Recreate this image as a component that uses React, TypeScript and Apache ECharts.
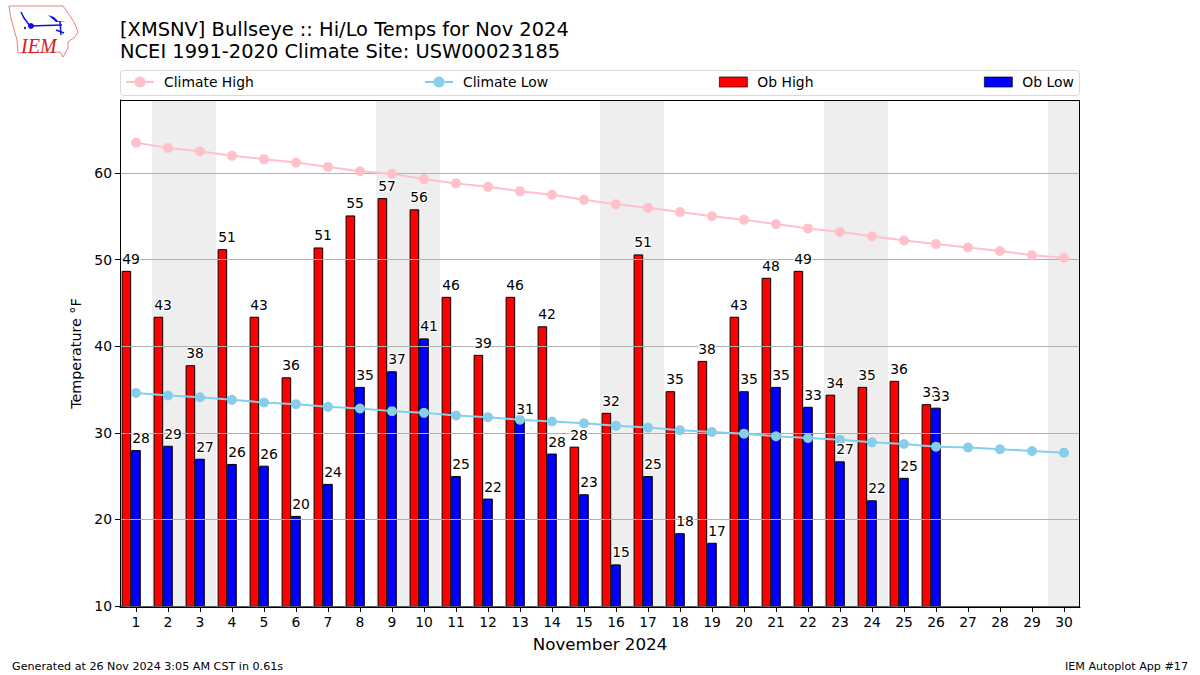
import React, { useEffect, useRef } from "react";
import * as echarts from "echarts";

const days = ["1","2","3","4","5","6","7","8","9","10","11","12","13","14","15","16","17","18","19","20","21","22","23","24","25","26","27","28","29","30"];
const climateHigh = [63.5,62.9,62.5,62.0,61.6,61.2,60.7,60.2,59.9,59.3,58.8,58.4,57.9,57.5,56.9,56.4,56.0,55.5,55.0,54.6,54.1,53.6,53.2,52.7,52.2,51.8,51.4,51.0,50.5,50.2];
const climateLow = [34.6,34.3,34.1,33.8,33.5,33.3,33.0,32.8,32.5,32.3,32.0,31.8,31.5,31.3,31.1,30.8,30.6,30.3,30.1,29.9,29.6,29.4,29.2,28.9,28.7,28.4,28.3,28.1,27.9,27.7];
const obHigh = [48.7,43.4,37.8,51.2,43.4,36.4,51.4,55.1,57.1,55.8,45.7,39.0,45.7,42.3,28.4,32.3,50.6,34.8,38.3,43.4,47.9,48.7,34.4,35.3,36.0,33.3];
const obLow = [28.0,28.5,27.0,26.4,26.2,20.4,24.1,35.3,37.1,40.9,25.0,22.4,31.4,27.6,22.9,14.8,25.0,18.4,17.3,34.8,35.3,33.0,26.7,22.2,24.8,32.9];
const weekendSpans = [[1.5,3.5],[8.5,10.5],[15.5,17.5],[22.5,24.5],[29.5,30.5]];
const yTicks = [10,20,30,40,50,60];

const FONT = "DejaVu Sans";

const legendAt = (name: string, left: number, h: number, icon?: string) => ({
  show: true,
  left,
  top: 75,
  data: icon ? [{ name, icon, itemStyle: { borderWidth: 0.7, borderColor: "#000" } }] : [name],
  selectedMode: false,
  itemWidth: 28,
  itemHeight: h,
  padding: 0,
  textStyle: { fontFamily: FONT, fontSize: 13.9, color: "#000", padding: [0, 0, 0, 5] },
});

const labelSeries = (name: string, values: number[], dx: number) => ({
  type: "scatter",
  name,
  z: 10,
  symbol: "circle",
  symbolSize: 2,
  silent: true,
  itemStyle: { opacity: 0 },
  data: values.map((v, i) => [i, v]),
  label: {
    show: true,
    position: "top",
    distance: 4,
    opacity: 1,
    fontFamily: FONT,
    fontSize: 13.9,
    color: "#000",
    textBorderColor: "#fff",
    textBorderWidth: 2.5,
    formatter: (p: any) => String(Math.round(p.value[1])),
  },
  labelLayout: { dx, hideOverlap: false },
});

export default function App() {
  const ref = useRef<HTMLDivElement>(null);
  useEffect(() => {
    document.body.style.margin = "0";
    const chart = echarts.init(ref.current!, undefined, { renderer: "svg" });
    const red = "#e88080";
    const blue = "#1212e0";
    chart.setOption({
      animation: false,
      backgroundColor: "#fff",
      title: {
        left: 120,
        top: 18,
        padding: 0,
        text: "[XMSNV] Bullseye :: Hi/Lo Temps for Nov 2024\nNCEI 1991-2020 Climate Site: USW00023185",
        textStyle: { fontFamily: FONT, fontSize: 19.45, fontWeight: "normal", color: "#000", lineHeight: 22 },
      },
      legend: [
        legendAt("Climate High", 125, 14),
        legendAt("Climate Low", 424, 14),
        legendAt("Ob High", 719, 10, "rect"),
        legendAt("Ob Low", 984, 10, "rect"),
      ],
      grid: { left: 120, top: 100, width: 960, height: 507, show: false },
      xAxis: [
        {
          type: "category",
          data: days,
          name: "November 2024",
          nameLocation: "middle",
          nameGap: 28,
          nameTextStyle: { fontFamily: FONT, fontSize: 16.7, color: "#000" },
          z: 3,
          axisLine: { show: true, lineStyle: { color: "#000", width: 1 } },
          axisTick: { show: true, alignWithLabel: true, length: 5, lineStyle: { color: "#000", width: 1 } },
          axisLabel: { interval: 0, margin: 8, fontFamily: FONT, fontSize: 13.9, color: "#000" },
          splitLine: { show: false },
        },
        { type: "value", min: 0.5, max: 30.5, show: false, splitLine: { show: false } },
      ],
      yAxis: {
        type: "value",
        min: 9.88,
        max: 68.43,
        name: "Temperature °F",
        nameLocation: "middle",
        nameRotate: 90,
        nameGap: 37,
        nameTextStyle: { fontFamily: FONT, fontSize: 14.3, color: "#000" },
        z: 3,
        axisLine: { show: true, lineStyle: { color: "#000", width: 1 } },
        axisTick: { show: true, length: 5, customValues: yTicks, lineStyle: { color: "#000", width: 1 } },
        axisLabel: { customValues: yTicks, margin: 8, fontFamily: FONT, fontSize: 13.9, color: "#000" },
        splitLine: { show: true, lineStyle: { color: "#b0b0b0", width: 1 } },
      },
      series: [
        {
          type: "line",
          name: "weekends",
          xAxisIndex: 1,
          data: [],
          z: 1,
          silent: true,
          markArea: {
            silent: true,
            itemStyle: { color: "#eeeeee" },
            data: weekendSpans.map(([a, b]) => [{ xAxis: a }, { xAxis: b }]),
          },
        },
        {
          type: "bar", name: "Ob High", data: obHigh, z: 2, barWidth: 9.6, barGap: 0,
          itemStyle: { color: "#ff0000", borderColor: "#000", borderWidth: 1 },
        },
        {
          type: "bar", name: "Ob Low", data: obLow, z: 2, barWidth: 9.6, barGap: 0,
          itemStyle: { color: "#0000ff", borderColor: "#000", borderWidth: 1 },
        },
        { type: "bar", name: "slot", data: [], z: 2, barWidth: 9.6, barGap: 0 },
        {
          type: "line", name: "Climate High", data: climateHigh, z: 4,
          symbol: "circle", symbolSize: 10,
          itemStyle: { color: "#ffc0cb" }, lineStyle: { color: "#ffc0cb", width: 2 },
        },
        {
          type: "line", name: "Climate Low", data: climateLow, z: 4,
          symbol: "circle", symbolSize: 10,
          itemStyle: { color: "#87ceeb" }, lineStyle: { color: "#87ceeb", width: 2 },
        },
        labelSeries("High labels", obHigh, -5),
        labelSeries("Low labels", obLow, 5),
      ],
      graphic: [
        { type: "rect", z: 50, silent: true, shape: { x: 120.5, y: 70.5, width: 959, height: 25, r: 3 }, style: { fill: "none", stroke: "#d9d9d9", lineWidth: 1 } },
        { type: "rect", z: 50, silent: true, shape: { x: 120.5, y: 100.5, width: 959, height: 506.5 }, style: { fill: "none", stroke: "#000", lineWidth: 1 } },
        { type: "text", z: 50, x: 12, y: 661, style: { text: "Generated at 26 Nov 2024 3:05 AM CST in 0.61s", fontFamily: FONT, fontSize: 11.15, fill: "#000" } },
        { type: "text", z: 50, x: 1188, y: 661, style: { text: "IEM Autoplot App #17", align: "right", fontFamily: FONT, fontSize: 11.15, fill: "#000" } },
        {
          type: "polygon", z: 50, silent: true,
          shape: { points: [[9,6],[63,6],[68,13],[74,22],[78,32],[75,37],[68,42],[68,48],[63,57],[60,52],[18,53],[17,40],[12,22],[10,13]] },
          style: { fill: "#fff", stroke: red, lineWidth: 1 },
        },
        { type: "polyline", z: 51, silent: true, shape: { points: [[21,12],[24,18],[30,26],[62,25]] }, style: { fill: "none", stroke: blue, lineWidth: 1.5 } },
        { type: "circle", z: 51, silent: true, shape: { cx: 31, cy: 26, r: 3 }, style: { fill: blue } },
        { type: "polygon", z: 51, silent: true, shape: { points: [[48,15],[54,17],[58,21],[66,21],[56,22]] }, style: { fill: blue } },
        { type: "polyline", z: 51, silent: true, shape: { points: [[60,21],[61,35]] }, style: { fill: "none", stroke: blue, lineWidth: 1.5 } },
        { type: "polyline", z: 51, silent: true, shape: { points: [[56,30],[64,33]] }, style: { fill: "none", stroke: blue, lineWidth: 1.5 } },
        { type: "circle", z: 51, silent: true, shape: { cx: 25, cy: 28, r: 1.2 }, style: { fill: blue } },
        { type: "text", z: 51, x: 21, y: 36, style: { text: "IEM", fontFamily: "Liberation Serif", fontStyle: "italic", fontSize: 20, fill: "#d42020" } },
      ],
    });
    return () => chart.dispose();
  }, []);
  return <div ref={ref} style={{ width: 1200, height: 675 }} />;
}
